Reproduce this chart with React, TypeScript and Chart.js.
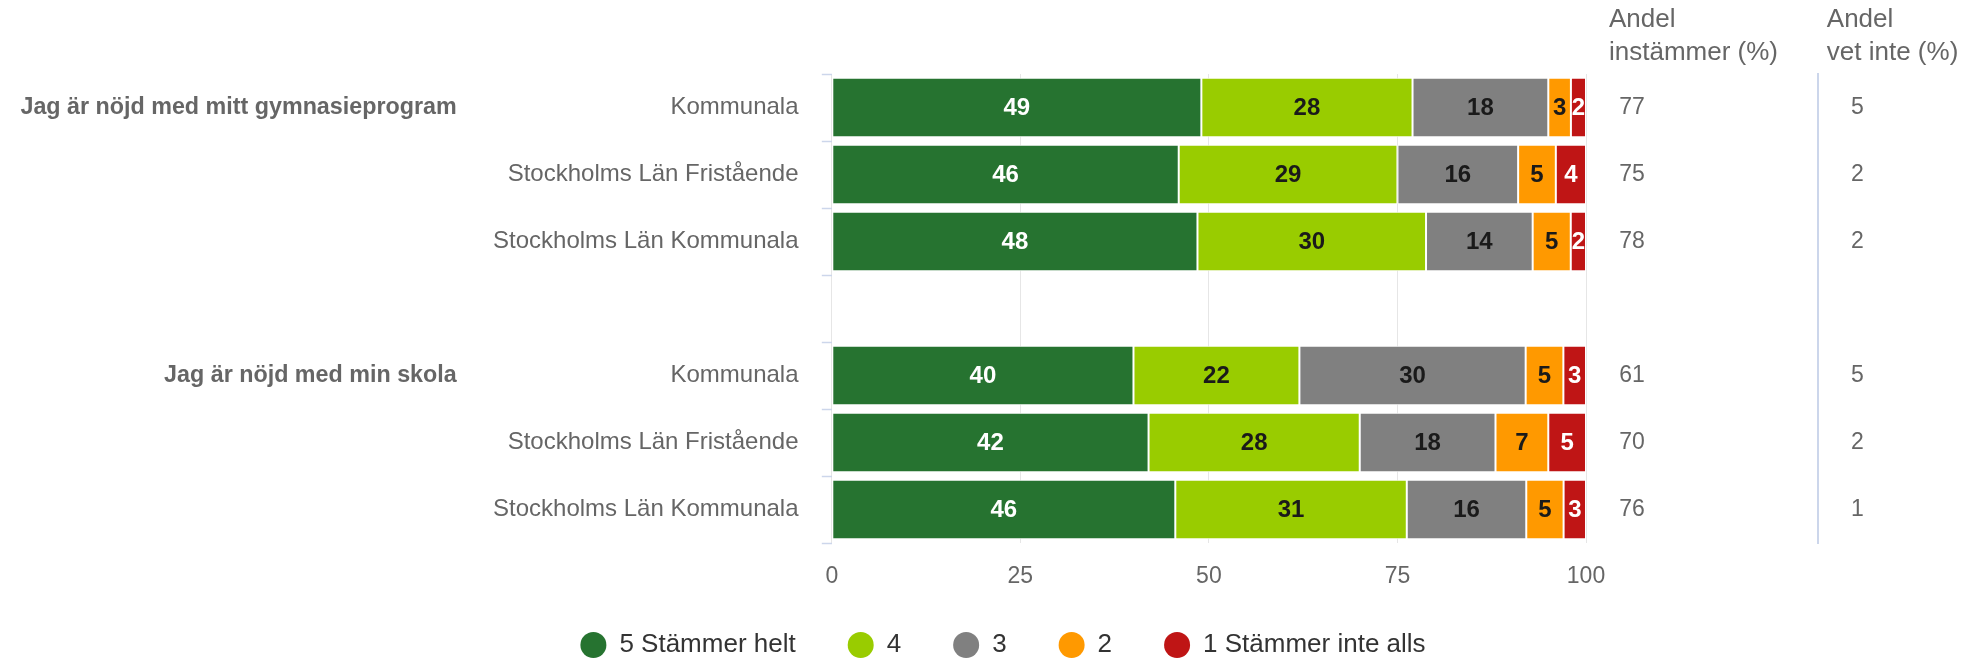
import React, { useEffect, useRef } from 'react';
import { Chart, registerables } from 'chart.js';

Chart.register(...registerables);

const FONT = '"Liberation Sans", Arial, Helvetica, sans-serif';

const categories = [
  'Kommunala',
  'Stockholms Län Fristående',
  'Stockholms Län Kommunala',
  '',
  'Kommunala',
  'Stockholms Län Fristående',
  'Stockholms Län Kommunala',
];
const groupLabels = [
  'Jag är nöjd med mitt gymnasieprogram',
  '',
  '',
  '',
  'Jag är nöjd med min skola',
  '',
  '',
];

const seriesNames = ['5 Stämmer helt', '4', '3', '2', '1 Stämmer inte alls'];
const seriesColors = ['#267330', '#99cc00', '#808080', '#ff9900', '#bf1515'];
const labelColors = ['#ffffff', '#1a1a1a', '#1a1a1a', '#1a1a1a', '#ffffff'];

const s5 = [49, 46, 48, null, 40, 42, 46];
const s4 = [28, 29, 30, null, 22, 28, 31];
const s3 = [18, 16, 14, null, 30, 18, 16];
const s2 = [3, 5, 5, null, 5, 7, 5];
const s1 = [2, 4, 2, null, 3, 5, 3];

const andelInstammer = ['77', '75', '78', '', '61', '70', '76'];
const andelVetInte = ['5', '2', '2', '', '5', '2', '1'];

const xTicks = [0, 25, 50, 75, 100];
const headerInstammer = ['Andel', 'instämmer (%)'];
const headerVetInte = ['Andel', 'vet inte (%)'];

export default function App() {
  const ref = useRef<HTMLCanvasElement>(null);

  useEffect(() => {
    if (!ref.current) return;
    const series = [s5, s4, s3, s2, s1];
    const totals = categories.map((_, j) =>
      series.reduce((a, s) => a + (s[j] == null ? 0 : (s[j] as number)), 0)
    );
    const datasets = series.map((s, i) => ({
      label: seriesNames[i],
      data: s.map((v, j) => (v == null ? null : ((v as number) / totals[j]) * 100)),
      backgroundColor: seriesColors[i],
      borderColor: '#ffffff',
      borderWidth: 1,
      borderSkipped: false as const,
      barPercentage: 0.89,
      categoryPercentage: 1,
      xAxisID: 'x',
      yAxisID: 'y',
    }));

    const dataLabelPlugin = {
      id: 'dataLabelPlugin',
      afterDatasetsDraw(chart: any) {
        const ctx = chart.ctx;
        ctx.save();
        ctx.font = `bold 24px ${FONT}`;
        ctx.textAlign = 'center';
        ctx.textBaseline = 'middle';
        series.forEach((s, i) => {
          const meta = chart.getDatasetMeta(i);
          meta.data.forEach((bar: any, j: number) => {
            const v = s[j];
            if (v == null) return;
            const p = bar.getProps(['x', 'y', 'base'], true);
            ctx.fillStyle = labelColors[i];
            ctx.fillText(String(v), (p.x + p.base) / 2, p.y + 1);
          });
        });
        ctx.restore();
      },
    };

    const headerPlugin = {
      id: 'headerPlugin',
      afterDraw(chart: any) {
        const ctx = chart.ctx;
        const a = chart.scales.yPct;
        const b = chart.scales.yDk;
        ctx.save();
        ctx.font = `26px ${FONT}`;
        ctx.fillStyle = '#666666';
        ctx.textAlign = 'left';
        ctx.textBaseline = 'middle';
        headerInstammer.forEach((t, k) => ctx.fillText(t, a.left + 23, 20 + k * 33));
        headerVetInte.forEach((t, k) => ctx.fillText(t, b.left + 8.5, 20 + k * 33));
        ctx.restore();
      },
    };

    const chart = new Chart(ref.current, {
      type: 'bar',
      data: { labels: categories, datasets },
      plugins: [dataLabelPlugin, headerPlugin],
      options: {
        indexAxis: 'y',
        responsive: false,
        animation: false,
        events: [],
        layout: { padding: { left: 0, right: 0, top: 74, bottom: 0 } },
        font: { family: FONT },
        scales: {
          x: {
            type: 'linear',
            stacked: true,
            min: 0,
            max: 100,
            afterBuildTicks: (scale: any) => {
              scale.ticks = xTicks.map((v) => ({ value: v }));
            },
            afterFit: (scale: any) => {
              scale.height = 47;
            },
            ticks: {
              color: '#666666',
              padding: 22.2,
              font: { family: FONT, size: 23, lineHeight: 1 },
              maxRotation: 0,
            },
            grid: { color: '#e6e6e6', lineWidth: 1, drawTicks: false },
            border: { display: false },
          },
          y: {
            type: 'category',
            stacked: true,
            offset: true,
            afterFit: (scale: any) => {
              scale.width = 351.8;
            },
            ticks: {
              autoSkip: false,
              color: '#666666',
              padding: 23.3,
              font: { family: FONT, size: 24 },
            },
            grid: {
              display: true,
              offset: true,
              drawOnChartArea: false,
              drawTicks: true,
              tickLength: 10,
              tickColor: '#ccd6eb',
              tickWidth: 1.5,
              color: '#ccd6eb',
            },
            border: { display: false },
          },
          yGroup: {
            axis: 'y',
            type: 'category',
            position: 'left',
            weight: 1,
            labels: groupLabels,
            offset: true,
            afterFit: (scale: any) => {
              scale.width = 480;
            },
            ticks: {
              autoSkip: false,
              color: '#666666',
              padding: 23.3,
              font: { family: FONT, size: 23.3, weight: 'bold' },
            },
            grid: { display: false, drawTicks: false },
            border: { display: false },
          },
          yPct: {
            axis: 'y',
            type: 'category',
            position: 'right',
            weight: 0,
            labels: andelInstammer,
            offset: true,
            afterFit: (scale: any) => {
              scale.width = 232.3;
            },
            ticks: {
              autoSkip: false,
              color: '#666666',
              padding: 33.3,
              font: { family: FONT, size: 23 },
            },
            grid: { display: false, drawTicks: false },
            border: { display: false },
          },
          yDk: {
            axis: 'y',
            type: 'category',
            position: 'right',
            weight: 1,
            labels: andelVetInte,
            offset: true,
            afterFit: (scale: any) => {
              scale.width = 187.7;
            },
            ticks: {
              autoSkip: false,
              color: '#666666',
              padding: 32.7,
              font: { family: FONT, size: 23 },
            },
            grid: { display: false, drawTicks: false },
            border: { display: true, color: '#ccd6eb', width: 2 },
          },
        } as any,
        plugins: {
          tooltip: { enabled: false },
          legend: {
            position: 'bottom',
            title: {
              display: true,
              text: '',
              padding: { top: -10, bottom: 0 },
              font: { size: 1, lineHeight: '0px' },
            },
            labels: {
              color: '#333333',
              font: { family: FONT, size: 26 },
              usePointStyle: true,
              pointStyle: 'circle',
              boxWidth: 26,
              boxHeight: 18.385,
              padding: 52,
              generateLabels: (chart: any) =>
                Chart.defaults.plugins.legend.labels
                  .generateLabels(chart)
                  .map((it: any) => ({ ...it, lineWidth: 0, strokeStyle: 'rgba(0,0,0,0)' })),
            },
          },
        },
      } as any,
    });
    return () => chart.destroy();
  }, []);

  return (
    <div
      style={{
        position: 'fixed',
        left: 0,
        top: 0,
        width: 1970,
        height: 662,
        overflow: 'hidden',
        background: '#ffffff',
      }}
    >
      <canvas ref={ref} width={2006} height={668} style={{ display: 'block' }} />
    </div>
  );
}
